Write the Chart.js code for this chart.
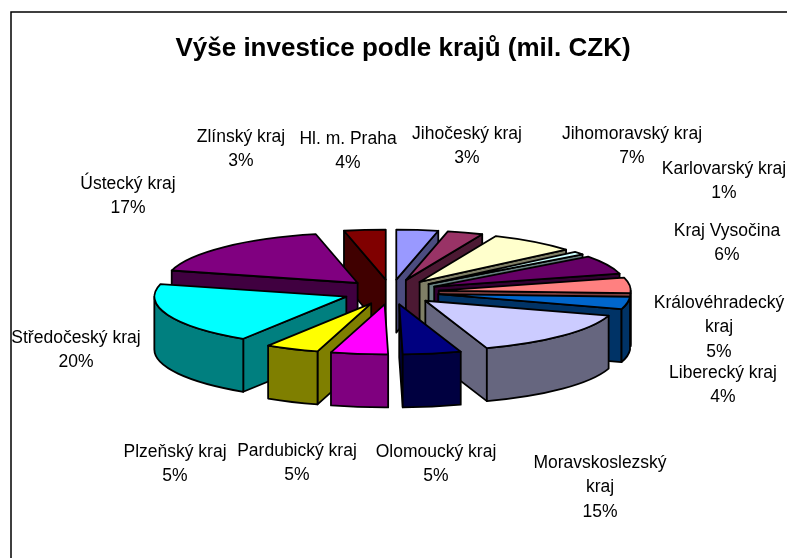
<!DOCTYPE html>
<html>
<head>
<meta charset="utf-8">
<style>
  html, body { margin: 0; padding: 0; background: #fff; }
  canvas { display: block; }
</style>
</head>
<body>
<canvas id="pie" width="787" height="558"></canvas>
<script src="https://cdn.jsdelivr.net/npm/chart.js@4/dist/chart.umd.min.js"></script>
<script>
const chartTitle = 'Výše investice podle krajů (mil. CZK)';
const categories = ['Hl. m. Praha', 'Jihočeský kraj', 'Jihomoravský kraj', 'Karlovarský kraj', 'Kraj Vysočina',
    'Královéhradecký kraj', 'Liberecký kraj', 'Moravskoslezský kraj', 'Olomoucký kraj', 'Pardubický kraj',
    'Plzeňský kraj', 'Středočeský kraj', 'Ústecký kraj', 'Zlínský kraj'];
// estimated from the slice corners, the labels show them rounded
const shares = [3.51, 3, 7.3, 1, 6, 5, 4, 15, 4.9, 4.8, 4.51, 20, 17.49, 3.49];
const colors = ['#9999FF', '#993366', '#FFFFCC', '#CCFFFF', '#660066', '#FF8080', '#0066CC',
    '#CCCCFF', '#000080', '#FF00FF', '#FFFF00', '#00FFFF', '#800080', '#800000'];

// Label lines wrap like the original, positions are the text centres of the first line
const labelLines = [['Hl. m. Praha'], ['Jihočeský kraj'], ['Jihomoravský kraj'], ['Karlovarský kraj'], ['Kraj Vysočina'],
    ['Královéhradecký', 'kraj'], ['Liberecký kraj'], ['Moravskoslezský', 'kraj'], ['Olomoucký kraj'], ['Pardubický kraj'],
    ['Plzeňský kraj'], ['Středočeský kraj'], ['Ústecký kraj'], ['Zlínský kraj']];
const labelX = [348, 467, 632, 724, 727, 719, 723, 600, 436, 297, 175, 76, 128, 241];
const labelY = [139, 134, 134, 169, 231, 303, 373, 463, 452, 451, 452, 338, 184, 137];

const pieX = 391, pieY = 292;   // centre of the un-exploded pie on the page
const radius = 192;
const tilt = 50 / 192;          // how much the circle is flattened
const depth = 53;               // height of the side walls
const explode = 48;

function darken(hex) {
    const n = parseInt(hex.slice(1), 16);
    return `rgb(${(n >> 16) >> 1}, ${((n >> 8) & 255) >> 1}, ${(n & 255) >> 1})`;
}

// Pie slices are Chart.js arcs, this only flattens them and adds the walls, back to front
const pie3d = {
    id: 'pie3d',
    beforeDatasetsDraw(chart) {
        const ctx = chart.ctx;
        const arcs = chart.getDatasetMeta(0).data;
        const order = arcs.map((arc, i) => i).sort((a, b) => {
            return Math.sin((arcs[a].startAngle + arcs[a].endAngle) / 2) - Math.sin((arcs[b].startAngle + arcs[b].endAngle) / 2);
        });

        order.forEach(i => {
            const arc = arcs[i];
            const a0 = arc.startAngle, a1 = arc.endAngle;
            const mid = (a0 + a1) / 2;
            const cx = pieX + Math.cos(mid) * explode;
            const cy = pieY + Math.sin(mid) * explode * tilt;
            const ry = radius * tilt;
            const px = a => cx + Math.cos(a) * radius;
            const py = a => cy + Math.sin(a) * ry;

            ctx.save();
            ctx.lineWidth = 1.8;
            ctx.lineJoin = 'round';
            ctx.strokeStyle = '#000';
            ctx.fillStyle = darken(colors[i]);

            // flat side walls, only those facing the viewer
            if (Math.cos(a0) < -1e-6) wall(ctx, cx, cy, px(a0), py(a0));
            if (Math.cos(a1) > 1e-6) wall(ctx, cx, cy, px(a1), py(a1));

            // curved outer wall
            const s = Math.max(a0, 0), e = Math.min(a1, Math.PI);
            if (e > s) {
                ctx.beginPath();
                ctx.ellipse(cx, cy, radius, ry, 0, s, e);
                ctx.ellipse(cx, cy + depth, radius, ry, 0, e, s, true);
                ctx.closePath();
                ctx.fill();
                ctx.stroke();
            }

            // top face: the library arc, flattened
            ctx.save();
            ctx.translate(cx, cy);
            ctx.scale(1, tilt);
            ctx.translate(-arc.x, -arc.y);
            arc.draw(ctx, chart.chartArea);
            ctx.restore();

            ctx.beginPath();
            ctx.moveTo(cx, cy);
            ctx.ellipse(cx, cy, radius, ry, 0, a0, a1);
            ctx.closePath();
            ctx.stroke();
            ctx.restore();
        });
        return false;
    },
    afterDraw(chart) {
        const ctx = chart.ctx;
        ctx.save();
        // frame runs off the right and bottom of the page
        ctx.strokeStyle = '#000';
        ctx.lineWidth = 1.5;
        ctx.beginPath();
        ctx.moveTo(11, 558);
        ctx.lineTo(11, 12);
        ctx.lineTo(787, 12);
        ctx.stroke();

        ctx.fillStyle = '#000';
        ctx.font = '17.5px "Liberation Sans"';
        ctx.textAlign = 'center';
        ctx.textBaseline = 'middle';
        categories.forEach((name, i) => {
            const lines = labelLines[i].concat(Math.round(shares[i]) + '%');
            lines.forEach((line, j) => {
                ctx.fillText(line, labelX[i], labelY[i] + j * 24.5);
            });
        });
        ctx.restore();
    }
};

function wall(ctx, x0, y0, x1, y1) {
    ctx.beginPath();
    ctx.moveTo(x0, y0);
    ctx.lineTo(x1, y1);
    ctx.lineTo(x1, y1 + depth);
    ctx.lineTo(x0, y0 + depth);
    ctx.closePath();
    ctx.fill();
    ctx.stroke();
}

new Chart(document.getElementById('pie').getContext('2d'), {
    type: 'pie',
    data: {
        labels: categories,
        datasets: [{
            data: shares,
            backgroundColor: colors,
            borderWidth: 0
        }]
    },
    options: {
        responsive: false,
        animation: false,
        radius: radius,
        layout: { padding: { left: 19, top: 25 } },
        plugins: {
            legend: { display: false },
            tooltip: { enabled: false },
            title: {
                display: true,
                text: chartTitle,
                color: '#000',
                font: { family: '"Liberation Sans"', size: 26, weight: 'bold' },
                padding: { top: 8, bottom: 0 }
            }
        }
    },
    plugins: [pie3d]
});
</script>
</body>
</html>
